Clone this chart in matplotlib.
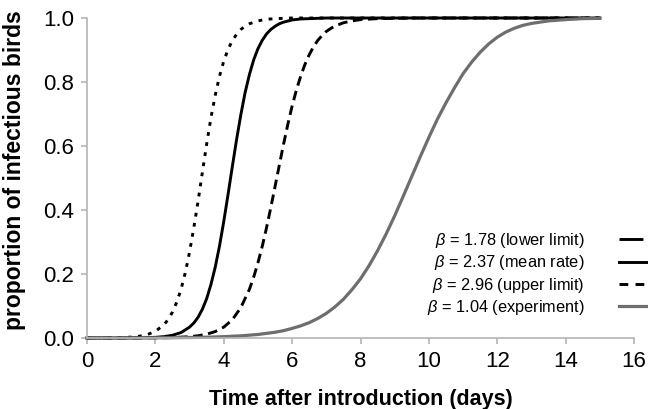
import numpy as np
import matplotlib
matplotlib.use('Agg')
import matplotlib.pyplot as plt
from matplotlib.lines import Line2D

plt.rcParams['font.family'] = ['Liberation Sans', 'DejaVu Sans']
plt.rcParams['mathtext.fontset'] = 'custom'
plt.rcParams['mathtext.it'] = 'Liberation Sans:italic'
plt.rcParams['mathtext.rm'] = 'Liberation Sans'

# proportion of infectious birds vs days
days_upper = [0, 0.5, 1.0, 1.25, 1.5, 1.75, 2.0, 2.25, 2.375, 2.5, 2.625, 2.75, 2.875,
              3.0, 3.125, 3.25, 3.375, 3.5, 3.625, 3.75, 3.875, 4.0, 4.125, 4.25,
              4.375, 4.5, 4.625, 4.75, 5.0, 5.25, 5.5, 5.75, 6.0, 8.0, 15.0]
upper = [0.0001, 0.0003, 0.0012, 0.0025, 0.005, 0.010, 0.021, 0.041, 0.058, 0.081,
         0.112, 0.152, 0.204, 0.269, 0.345, 0.428, 0.518, 0.606, 0.688, 0.758, 0.818,
         0.865, 0.902, 0.929, 0.949, 0.964, 0.975, 0.982, 0.991, 0.996, 0.998, 0.999,
         1.0, 1.0, 1.0]

days_mean = [0, 0.5, 1.0, 1.5, 1.75, 2.0, 2.25, 2.5, 2.75, 3.0, 3.125, 3.25, 3.375,
             3.5, 3.625, 3.75, 3.875, 4.0, 4.125, 4.25, 4.375, 4.5, 4.625, 4.75, 4.875,
             5.0, 5.125, 5.25, 5.375, 5.5, 5.625, 5.75, 6.0, 6.25, 6.5, 6.75, 7.0, 15.0]
mean = [0.0, 0.00003, 0.0001, 0.0005, 0.001, 0.0021, 0.0042, 0.0085, 0.017, 0.034,
        0.047, 0.065, 0.090, 0.123, 0.167, 0.221, 0.287, 0.364, 0.448, 0.535, 0.620,
        0.698, 0.767, 0.823, 0.869, 0.904, 0.930, 0.950, 0.964, 0.974, 0.982, 0.987,
        0.994, 0.997, 0.998, 0.999, 1.0, 1.0]

days_lower = [0, 1.0, 1.5, 2.0, 2.5, 3.0, 3.25, 3.5, 3.75, 4.0, 4.25, 4.5, 4.75, 4.875,
              5.0, 5.125, 5.25, 5.375, 5.5, 5.625, 5.75, 5.875, 6.0, 6.125, 6.25, 6.375,
              6.5, 6.625, 6.75, 6.875, 7.0, 7.125, 7.25, 7.5, 7.75, 8.0, 8.5, 9.0, 9.5,
              15.0]
lower = [0.0, 0.00006, 0.0002, 0.0005, 0.0014, 0.0041, 0.007, 0.012, 0.020, 0.034,
         0.057, 0.095, 0.152, 0.190, 0.235, 0.286, 0.344, 0.407, 0.473, 0.540, 0.606,
         0.668, 0.725, 0.775, 0.818, 0.855, 0.885, 0.910, 0.930, 0.945, 0.958, 0.967,
         0.975, 0.985, 0.991, 0.995, 0.998, 0.999, 1.0, 1.0]

days_exp = [0, 0.5, 1, 1.5, 2, 2.5, 3, 3.5, 4, 4.5, 5, 5.5, 5.75, 6, 6.25, 6.5, 6.75,
            7, 7.25, 7.5, 7.75, 8, 8.25, 8.5, 8.75, 9, 9.25, 9.5, 9.75, 10, 10.25,
            10.5, 10.75, 11, 11.25, 11.5, 11.75, 12, 12.25, 12.5, 12.75, 13, 13.5, 14,
            14.5, 15]
experiment = [0.0001, 0.0001, 0.0002, 0.0003, 0.0006, 0.0009, 0.0015, 0.0025, 0.0042,
              0.0068, 0.011, 0.018, 0.023, 0.030, 0.038, 0.048, 0.061, 0.077, 0.097,
              0.121, 0.151, 0.185, 0.226, 0.273, 0.325, 0.382, 0.443, 0.505, 0.567,
              0.627, 0.684, 0.735, 0.782, 0.826, 0.862, 0.893, 0.919, 0.940, 0.956,
              0.968, 0.977, 0.983, 0.991, 0.995, 0.998, 0.999]

labels = [r'$\beta$ = 1.78 (lower limit)', r'$\beta$ = 2.37 (mean rate)',
          r'$\beta$ = 2.96 (upper limit)', r'$\beta$ = 1.04 (experiment)']

grey = '#6e6e6e'

fig = plt.figure(figsize=(6.48, 4.09), dpi=100)
ax = fig.add_axes([87/648, 71/409, 547/648, 320/409])

ax.plot(days_lower, lower, color='black', lw=2.1, dashes=(3.3, 1.9), clip_on=False)
ax.plot(days_mean, mean, color='black', lw=2.1, clip_on=False)
ax.plot(days_upper, upper, color='black', lw=2.1, dashes=(1.3, 2.2), clip_on=False)
ax.plot(days_exp, experiment, color=grey, lw=2.3, clip_on=False)

ax.set_xlim(0, 16)
ax.set_ylim(0, 1.0)
ax.set_xticks(np.arange(0, 17, 2))
ax.set_yticks(np.arange(0, 1.01, 0.2))
ax.set_yticklabels(['%.1f' % v for v in np.arange(0, 1.01, 0.2)])

for s in ['top', 'right']:
    ax.spines[s].set_visible(False)
for s in ['left', 'bottom']:
    ax.spines[s].set_color('#b4b4b4')
    ax.spines[s].set_linewidth(1.2)
ax.tick_params(colors='#b4b4b4', length=4.5, width=1.2, labelcolor='black', labelsize=16)
ax.tick_params(axis='y', pad=5)
ax.tick_params(axis='x', pad=5)

ax.set_xlabel('Time after introduction (days)', fontsize=15.5, fontweight='bold', labelpad=12)
ax.set_ylabel('proportion of infectious birds', fontsize=16.5, fontweight='bold')
ax.yaxis.set_label_coords(-0.112, 0.525)

# legend samples (drawn with their own dash lengths, as in the original)
handles = [Line2D([], [], color='black', lw=2.1, dashes=(8.2, 4)),
           Line2D([], [], color='black', lw=2.1),
           Line2D([], [], color='black', lw=2.1, dashes=(3, 2.5)),
           Line2D([], [], color=grey, lw=2.3)]
fig.legend(handles, labels, loc='upper left',
           bbox_to_anchor=(427/648, (409-231)/409), frameon=False, fontsize=11.8,
           markerfirst=False, handlelength=3.0, handletextpad=2.1,
           labelspacing=0.2, borderpad=0, borderaxespad=0)

fig.savefig('out.png', dpi=100)
